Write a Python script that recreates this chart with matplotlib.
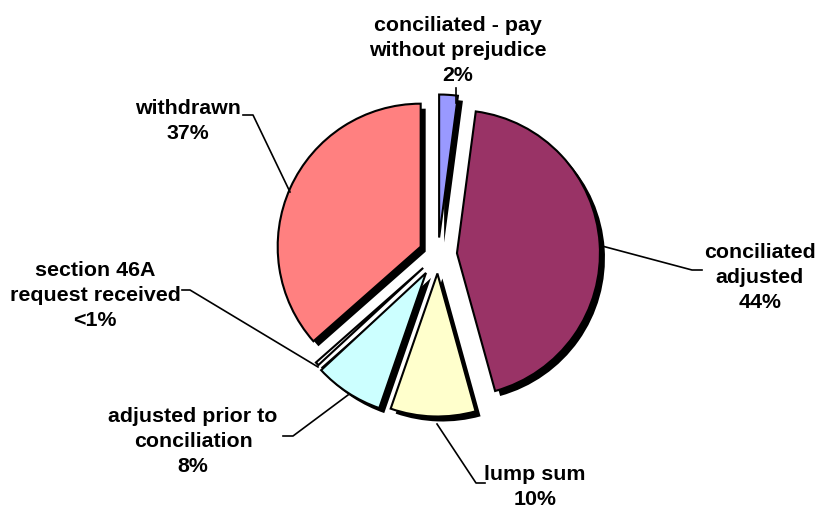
import matplotlib.pyplot as plt

# outcome shares (%), clockwise from 12 o'clock
categories = ['conciliated - pay\nwithout prejudice', 'conciliated\nadjusted', 'lump sum',
              'adjusted prior to\nconciliation', 'section 46A\nrequest received', 'withdrawn']
shares = [2.1, 43.6, 9.6, 7.8, 0.4, 36.5]
pct_labels = ['2%', '44%', '10%', '8%', '<1%', '37%']
colors = ['#9999FF', '#993366', '#FFFFCC', '#CCFFFF', '#FFFFFF', '#FF8080']

W, H = 816, 510
def Y(y):
    return H - y

fig = plt.figure(figsize=(W / 100, H / 100), dpi=100)
ax = fig.add_axes([0, 0, 1, 1])

CX, CY, R = 438, Y(255.5), 143
explode = [17, 19, 19, 22, 20, 19]

# shadow first, then the real pie on top
ax.pie(shares, explode=explode, startangle=90, counterclock=False,
       center=(CX + 5, CY - 5), radius=R, colors=['black'] * len(shares),
       wedgeprops=dict(linewidth=0))
ax.pie(shares, explode=explode, startangle=90, counterclock=False,
       center=(CX, CY), radius=R, colors=colors,
       wedgeprops=dict(edgecolor='black', linewidth=1.5))

ax.set_xlim(0, W)
ax.set_ylim(0, H)
ax.set_aspect('equal')
ax.axis('off')

# label anchor (centre x, last-line baseline y) and leader line, in pixels
label_pos = [(458, 81), (760, 308), (535, 505), (193, 472), (95, 326), (188, 139)]
leaders = [
    [(456, 89), (456, 104)],
    [(702, 271), (692, 271), (602, 247)],
    [(485, 484), (476, 484), (437, 425)],
    [(283, 437), (293, 437), (348, 396)],
    [(182, 291), (190, 291), (318, 368)],
    [(243, 116), (253, 116), (290, 193)],
]

for cat, pct, (lx, ly), pts in zip(categories, pct_labels, label_pos, leaders):
    ax.text(lx, Y(ly), cat + '\n' + pct, ha='center', va='baseline',
            fontsize=15.4, fontweight='bold', family='Liberation Sans',
            linespacing=1.4)
    xs = [p[0] for p in pts]
    ys = [Y(p[1]) for p in pts]
    ax.plot(xs, ys, color='black', linewidth=1.2)

fig.savefig('out.png', dpi=100)
